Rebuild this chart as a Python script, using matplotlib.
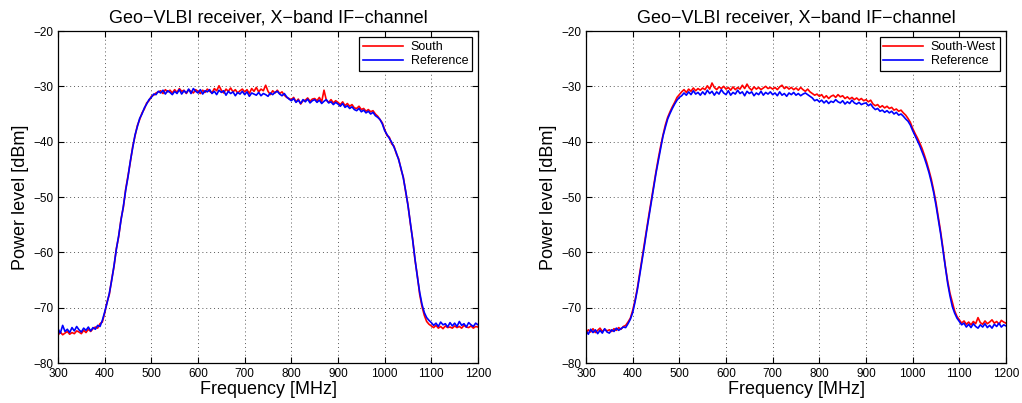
import numpy as np
import matplotlib
matplotlib.use("Agg")
import matplotlib.pyplot as plt

plt.rcParams['font.family'] = ['Liberation Sans', 'DejaVu Sans']

# frequency grid of the read-off points [MHz]
freq = np.arange(300, 1205, 5)

# left panel: South antenna vs reference [dBm]
south = [
    -75.0, -74.4, -74.9, -74.6, -74.3, -74.8, -74.5, -74.7, -74.2, -74.4,
    -74.7, -74.1, -74.5, -73.9, -74.3, -73.8, -73.5, -73.7, -72.9, -72.6,
    -71.0, -69.0, -67.6, -64.9, -62.6, -59.3, -57.2, -54.0, -51.9, -48.6,
    -46.2, -43.7, -40.9, -39.0, -37.1, -36.0, -34.8, -34.1, -33.0, -32.6,
    -31.8, -31.6, -31.2, -31.0, -30.8, -31.3, -30.6, -31.0, -30.7, -31.2,
    -30.6, -31.1, -30.4, -30.9, -30.7, -31.3, -30.6, -30.9, -31.2, -30.6,
    -30.9, -31.3, -30.7, -31.1, -30.5, -30.9, -31.2, -30.4, -30.8, -29.9,
    -30.7, -31.2, -30.5, -30.9, -30.3, -31.0, -30.6, -31.2, -30.8, -30.5,
    -31.0, -30.6, -31.3, -30.4, -30.9, -30.2, -31.0, -30.5, -30.8, -29.8,
    -30.9, -31.5, -30.8, -31.2, -30.7, -31.3, -31.0, -31.6, -32.0, -32.2,
    -32.4, -32.0, -32.8, -32.3, -33.2, -32.6, -32.5, -32.1, -32.7, -32.3,
    -32.2, -32.6, -32.0, -32.8, -30.7, -32.5, -32.9, -32.4, -33.0, -32.6,
    -32.9, -33.3, -32.8, -33.5, -33.1, -33.6, -33.3, -33.9, -34.0, -33.6,
    -34.2, -34.0, -34.5, -34.2, -34.6, -34.4, -35.0, -35.4, -36.0, -36.6,
    -37.8, -38.9, -39.2, -40.4, -40.8, -42.2, -43.1, -45.0, -46.4, -49.1,
    -51.4, -54.8, -57.6, -61.4, -64.2, -67.6, -69.8, -71.4, -72.5, -73.0,
    -73.3, -73.6, -73.2, -73.7, -73.4, -73.8, -73.3, -73.6, -73.5, -73.7,
    -73.3, -73.6, -73.4, -73.7, -73.2, -73.5, -73.6, -73.3, -73.7, -73.4,
    -73.5]
ref_left = [
    -73.8, -74.6, -73.2, -74.3, -73.9, -74.5, -73.6, -74.2, -73.4, -74.0,
    -74.4, -73.7, -74.1, -73.5, -74.2, -73.6, -73.9, -73.2, -73.4, -72.3,
    -70.8, -69.2, -67.4, -65.1, -62.4, -59.5, -57.0, -54.2, -51.7, -48.8,
    -46.4, -43.5, -41.1, -38.8, -37.3, -35.8, -35.0, -33.9, -33.2, -32.4,
    -32.0, -31.4, -31.5, -30.9, -31.2, -30.7, -31.4, -30.8, -31.1, -31.5,
    -30.9, -31.3, -30.6, -31.4, -30.8, -31.2, -30.5, -31.3, -30.4, -30.9,
    -31.2, -30.6, -31.4, -30.8, -31.0, -30.6, -31.3, -30.9, -31.5, -30.7,
    -31.1, -30.8, -31.6, -30.9, -31.3, -31.0, -31.7, -31.1, -31.4, -30.9,
    -31.5, -31.0, -31.8, -31.2, -31.4, -31.6, -31.1, -31.7, -31.3, -31.5,
    -31.8, -31.2, -31.5, -31.1, -30.9, -31.4, -31.7, -31.3, -31.9, -32.3,
    -32.6, -32.2, -32.9, -32.5, -33.1, -32.4, -32.8, -32.3, -33.0, -32.6,
    -32.4, -32.9, -32.5, -33.1, -32.7, -32.4, -33.0, -32.8, -33.3, -32.9,
    -33.2, -33.6, -33.1, -33.8, -33.5, -34.0, -33.7, -34.2, -34.4, -34.0,
    -34.6, -34.3, -34.8, -34.5, -35.0, -34.7, -35.3, -35.6, -36.0, -36.8,
    -38.0, -38.7, -39.4, -40.1, -41.0, -42.0, -43.3, -44.8, -46.6, -48.9,
    -51.6, -54.6, -57.8, -61.2, -64.4, -67.2, -69.4, -70.9, -71.8, -72.3,
    -72.7, -73.2, -72.8, -73.4, -72.6, -73.1, -72.9, -73.5, -72.7, -73.3,
    -72.8, -73.4, -72.5, -73.2, -72.9, -73.5, -72.7, -73.1, -73.4, -72.8,
    -73.1]

# right panel: South-West antenna vs reference [dBm]
south_west = [
    -74.6, -74.0, -74.4, -73.8, -74.5, -74.1, -73.7, -74.3, -73.9, -74.2,
    -74.0, -74.3, -73.8, -74.1, -73.6, -73.9, -73.4, -73.2, -72.6, -71.9,
    -70.5, -68.7, -66.5, -63.8, -61.2, -58.5, -55.8, -53.1, -50.5, -47.9,
    -45.4, -43.0, -40.8, -38.8, -37.0, -35.6, -34.6, -33.7, -32.9, -32.0,
    -31.5, -31.0, -30.6, -31.1, -30.5, -30.9, -30.3, -30.8, -30.4, -30.7,
    -30.3, -30.6, -29.9, -30.5, -29.4, -30.2, -30.6, -30.1, -30.4, -30.0,
    -30.5, -30.2, -30.7, -30.1, -30.6, -30.2, -30.5, -29.8, -30.4, -29.6,
    -30.3, -30.7, -30.1, -30.5, -30.2, -30.6, -30.3, -30.0, -30.4, -30.2,
    -30.5, -30.2, -30.6, -30.1, -29.8, -30.4, -30.1, -30.5, -30.2, -30.6,
    -30.3, -30.7, -30.2, -30.6, -30.9, -30.5, -31.0, -31.3, -31.6, -31.4,
    -31.8, -31.5, -32.1, -31.7, -32.2, -31.8, -31.6, -32.0, -31.5, -31.9,
    -31.7, -32.2, -31.9, -32.3, -32.0, -32.4, -32.1, -32.5, -32.2, -32.6,
    -32.4, -32.8, -32.5, -33.2, -33.5, -33.3, -33.8, -33.5, -33.9, -33.6,
    -34.0, -33.8, -34.3, -34.1, -34.5, -34.3, -34.8, -35.2, -35.8, -36.5,
    -37.6, -38.5, -39.3, -40.2, -41.2, -42.4, -43.7, -45.2, -46.8, -48.8,
    -51.0, -53.6, -56.3, -59.3, -62.5, -65.2, -67.4, -69.0, -70.6, -71.6,
    -72.2, -72.8, -72.4, -73.0, -72.6, -73.1, -72.5, -72.9, -71.8, -72.7,
    -73.0, -72.4, -72.9, -72.6, -72.2, -72.8, -72.5, -73.0, -72.3, -72.6,
    -72.8]
ref_right = [
    -74.2, -74.8, -73.9, -74.5, -74.0, -74.7, -74.1, -74.6, -73.8, -74.4,
    -74.6, -74.0, -74.3, -73.7, -74.1, -73.8, -73.5, -73.6, -72.9, -72.1,
    -70.9, -69.0, -66.8, -64.2, -61.5, -58.9, -56.1, -53.5, -50.9, -48.2,
    -45.7, -43.4, -41.2, -39.0, -37.4, -35.9, -34.9, -34.0, -33.2, -32.5,
    -32.0, -31.7, -31.2, -31.6, -31.0, -31.5, -30.8, -31.4, -31.1, -31.6,
    -31.0, -31.5, -30.7, -31.3, -30.9, -31.6, -31.0, -31.4, -30.6, -31.2,
    -31.5, -30.8, -31.6, -31.1, -31.4, -30.7, -31.3, -31.0, -31.7, -30.9,
    -31.3, -31.0, -31.7, -31.2, -31.5, -30.9, -31.6, -31.1, -31.4, -31.0,
    -31.5, -31.2, -31.7, -31.0, -31.6, -31.3, -31.8, -31.2, -31.5, -31.1,
    -31.6, -31.3, -31.7, -31.4, -31.2, -31.5, -31.8, -32.1, -32.6, -32.4,
    -32.8, -32.5, -33.0, -32.6, -33.1, -32.7, -32.9, -32.4, -32.8, -33.0,
    -32.6, -33.2, -32.8, -33.1, -32.5, -33.0, -33.2, -32.9, -33.3, -33.1,
    -33.0, -33.5, -33.2, -33.8, -34.2, -34.0, -34.5, -34.3, -34.7, -34.4,
    -34.8, -34.5, -35.0, -34.7, -35.2, -35.0, -35.4, -35.9, -36.3, -37.0,
    -38.0, -38.9, -39.8, -40.7, -41.8, -42.9, -44.2, -45.6, -47.3, -49.2,
    -51.5, -54.1, -56.7, -59.7, -62.8, -65.6, -67.9, -69.8, -71.0, -71.9,
    -72.5, -73.1, -72.8, -73.5, -73.0, -73.6, -72.9, -73.4, -73.7, -73.1,
    -73.5, -72.9, -73.6, -73.2, -73.7, -73.0, -73.4, -72.8, -73.5, -73.1,
    -73.3]

panels = [(south, ref_left, 'South'), (south_west, ref_right, 'South-West')]
title = 'Geo\u2212VLBI receiver, X\u2212band IF\u2212channel'
xticks = [300, 400, 500, 600, 700, 800, 900, 1000, 1100, 1200]
yticks = [-80, -70, -60, -50, -40, -30, -20]

fig = plt.figure(figsize=(10.22, 4.03), dpi=100)
lefts = [58 / 1022, 586 / 1022]
for left, (meas, ref, name) in zip(lefts, panels):
    ax = fig.add_axes([left, 40 / 403, 420 / 1022, 332 / 403])
    ax.plot(freq, meas, color='red', lw=1.2, label=name)
    ax.plot(freq, ref, color='blue', lw=1.2, label='Reference')
    ax.set_xlim(300, 1200)
    ax.set_ylim(-80, -20)
    ax.set_xticks(xticks)
    ax.set_yticks(yticks)
    ax.grid(True, linestyle=(0, (1, 3)), color='0.35', lw=0.7)
    ax.tick_params(direction='in', top=True, right=True, length=4,
                   labelsize=8.5, width=0.8)
    for s in ax.spines.values():
        s.set_linewidth(0.9)
    ax.set_title(title, fontsize=13, pad=6)
    ax.set_xlabel('Frequency [MHz]', fontsize=13, labelpad=1)
    ax.set_ylabel('Power level [dBm]', fontsize=13, labelpad=3)
    leg = ax.legend(loc='upper right', fontsize=9, handlelength=3.2,
                    fancybox=False, framealpha=1, borderaxespad=0.5,
                    borderpad=0.3, labelspacing=0.15, handletextpad=0.6)
    leg.get_frame().set_edgecolor('black')
    leg.get_frame().set_linewidth(0.9)

fig.savefig('out.png', dpi=100)
